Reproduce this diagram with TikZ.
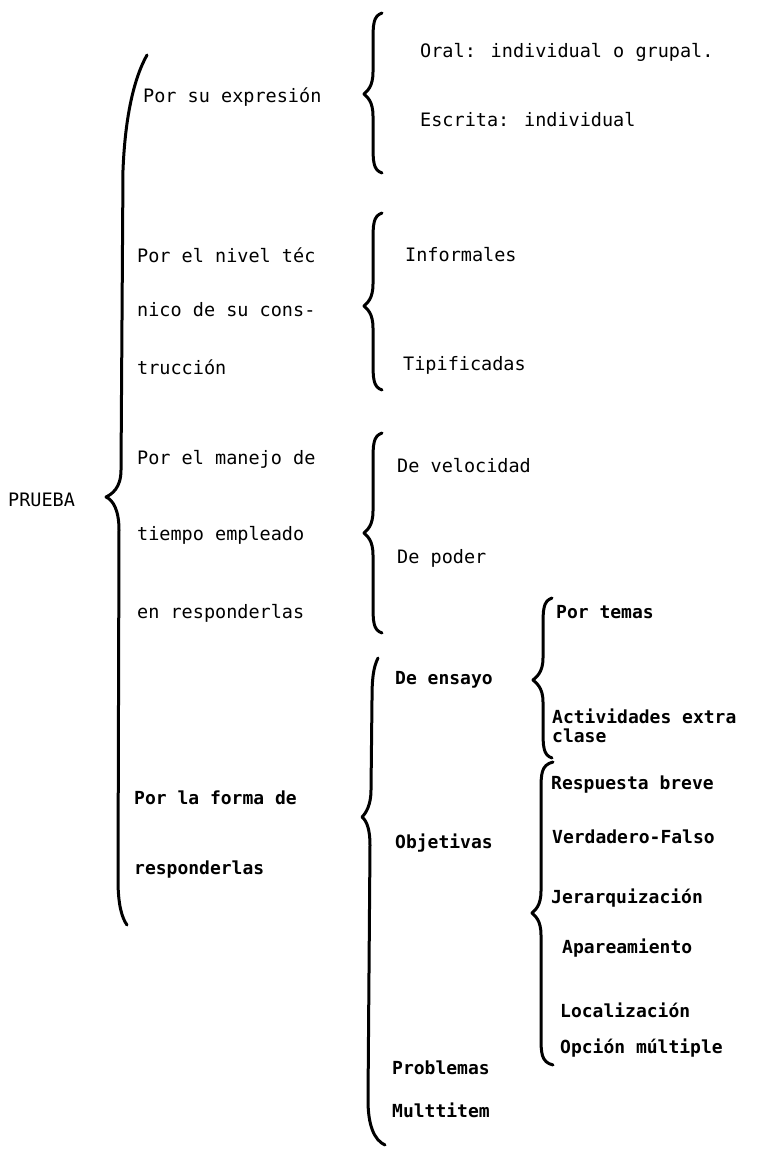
\documentclass[tikz,border=0pt]{standalone}
\usepackage{fontspec}
\newfontfamily\tw{DejaVu Sans Mono}
\tikzset{
  brc/.style={line width=3pt, line cap=round, line join=round},
  lbl/.style={anchor=west, inner sep=0pt, font=\tw\fontsize{18.5}{20}\selectfont},
  blbl/.style={lbl, font=\tw\bfseries\fontsize{18}{20}\selectfont}
}
\newcommand\mybrace[6]{% xr xs xt y1 ym y2
  \draw[brc] (#1,#4) .. controls (#2,{#4+3}) and (#2,{#4+12}) .. (#2,{#4+30})
    -- (#2,{#5-22}) .. controls (#2,{#5-7}) and ({#3+3},{#5-3}) .. (#3,#5)
    .. controls ({#3+3},{#5+3}) and (#2,{#5+7}) .. (#2,{#5+22})
    -- (#2,{#6-30}) .. controls (#2,{#6-12}) and (#2,{#6-3}) .. (#1,#6);}
\begin{document}
\begin{tikzpicture}[x=1pt,y=-1pt]
\useasboundingbox (0,0) rectangle (761,1149);
\fill[white] (0,0) rectangle (761,1149);
% root
\node[lbl] (root) at (8,500) {PRUEBA};
% main brace
\coordinate (mtip) at (106,497);
\draw[brc] (147,55) .. controls (133,80) and (125,120) .. (123,170) -- (121,470)
  .. controls (121,488) and (112,494) .. (mtip)
  .. controls (113,500) and (119,510) .. (119,530) -- (118,880)
  .. controls (118,905) and (122,918) .. (127,925);
% level 1
\node[lbl] (c1) at (143,97) {Por su expresión};
\node[lbl] (c2a) at (137,255) {Por el nivel téc};
\node[lbl] (c2b) at (137,310) {nico de su cons-};
\node[lbl] (c2c) at (137,367) {trucción};
\node[lbl] (c3a) at (137,459) {Por el manejo de};
\node[lbl] (c3b) at (137,535) {tiempo empleado};
\node[lbl] (c3c) at (137,613) {en responderlas};
\node[blbl] (c4a) at (134,798) {Por la forma de};
\node[blbl] (c4b) at (134,870) {responderlas};
% braces level 2
\mybrace{382}{373}{364}{13}{94}{173}
\mybrace{382}{373}{364}{213}{306}{390}
\mybrace{382}{373}{364}{433}{533}{633}
\node[lbl] (oral) at (420,52) {Oral: individual o grupal.};
\node[lbl] (escr) at (420,120) {Escrita: individual};
\node[lbl] (info) at (405,255) {Informales};
\node[lbl] (tipi) at (403,365) {Tipificadas};
\node[lbl] (velo) at (397,466) {De velocidad};
\node[lbl] (pode) at (397,558) {De poder};
% brace D
\coordinate (dtip) at (362,817);
\draw[brc] (378,658) .. controls (373,668) and (372,680) .. (372,700) -- (371,790)
  .. controls (371,805) and (366,813) .. (dtip)
  .. controls (367,821) and (370,830) .. (370,845) -- (368,1100)
  .. controls (368,1125) and (374,1140) .. (385,1145);
\node[blbl] (ensa) at (395,680) {De ensayo};
\node[blbl] (obje) at (395,843) {Objetivas};
\node[blbl] (prob) at (392,1068) {Problemas};
\node[blbl] (mult) at (392,1110) {Multtitem};
% brace P
\mybrace{552}{543}{533}{598}{680}{758}
\node[blbl] (tema) at (556,612) {Por temas};
\node[blbl] (acta) at (552,716) {Actividades extra};
\node[blbl] (actb) at (552,736) {clase};
% brace E
\mybrace{553}{541}{532}{762}{913}{1065}
\node[blbl] (resp) at (551,785) {Respuesta breve};
\node[blbl] (verd) at (552,837) {Verdadero-Falso};
\node[blbl] (jera) at (551,898) {Jerarquización};
\node[blbl] (apar) at (562,948) {Apareamiento};
\node[blbl] (loca) at (560,1010) {Localización};
\node[blbl] (opci) at (560,1048) {Opción múltiple};
\end{tikzpicture}
\end{document}
